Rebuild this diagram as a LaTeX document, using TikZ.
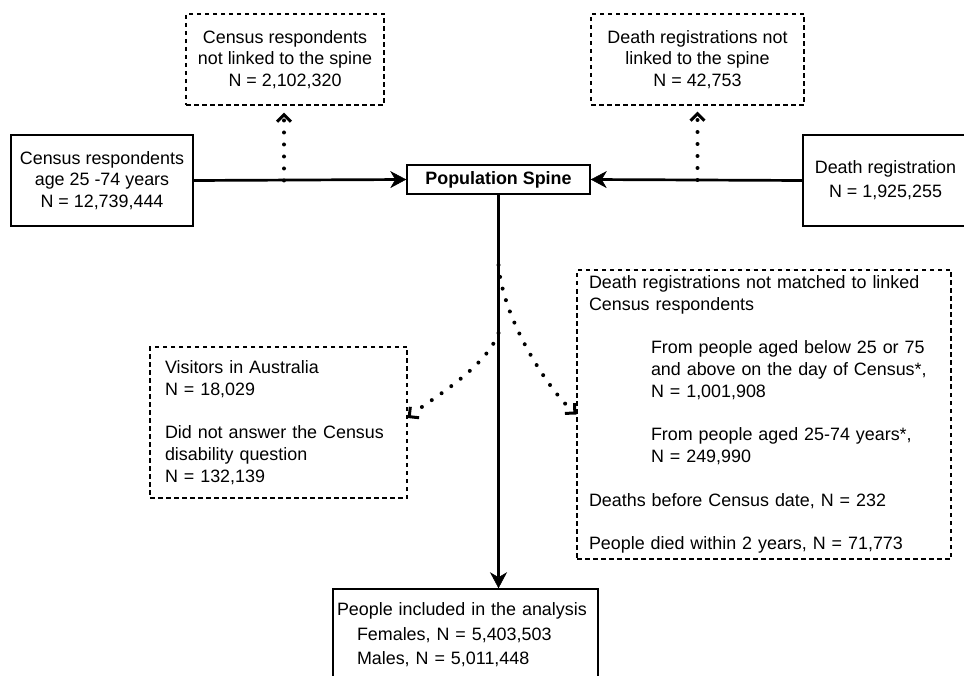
\documentclass[tikz,border=0pt]{standalone}
\usepackage{fontspec}
\setmainfont{Liberation Sans}
\usetikzlibrary{arrows.meta}
\begin{document}
\begin{tikzpicture}[x=1pt,y=-1pt,
  every node/.style={font=\fontsize{17.9}{21.8}\selectfont, inner sep=0pt},
  solidbox/.style={draw, line width=1.5pt, rectangle},
  dashbox/.style={draw, line width=1.2pt, dash pattern=on 4.5pt off 3.5pt, rectangle},
  mainarrow/.style={line width=2.7pt, -{Stealth[length=16pt,width=17pt,inset=5pt,line width=0.5pt]}},
  dotline/.style={line width=4pt, line cap=round, dash pattern=on 0pt off 12pt},
  opentip/.style={tips, line width=3pt, solid, -{Straight Barb[length=7pt,width=14pt,line width=3pt]}}
]
\useasboundingbox (0,0) rectangle (964,676);
\clip (0,0) rectangle (964,676);

% solid boxes
\node[solidbox, minimum width=182pt, minimum height=91pt, align=center] (census) at (102,180.5)
  {Census respondents\\age 25 -74 years\\N = 12,739,444};
\node[solidbox, minimum width=183pt, minimum height=29pt,
  font={\fontsize{17.9}{21.8}\selectfont\bfseries}] (spine) at (498.5,179.5) {Population Spine};
\node[solidbox, minimum width=165pt, minimum height=91pt, align=center] (death) at (885.5,180.5)
  {Death registration\\[2pt]N = 1,925,255};
\node[solidbox, minimum width=265pt, minimum height=91pt, text width=257pt, align=left] (bottom) at (465.5,634.5)
  {People included in the analysis\\[3pt]\hspace*{20pt}Females, N = 5,403,503\\[2pt]\hspace*{20pt}Males, N = 5,011,448};

% dashed boxes
\node[dashbox, minimum width=198pt, minimum height=91pt, align=center] (tl) at (285,59.5)
  {Census respondents\\not linked to the spine\\N = 2,102,320};
\node[dashbox, minimum width=213pt, minimum height=91pt, align=center] (tr) at (697.5,59.5)
  {Death registrations not\\linked to the spine\\N = 42,753};
\node[dashbox, minimum width=257pt, minimum height=151pt, text width=227pt, align=left] (lb) at (278.5,422.5)
  {Visitors in Australia\\N = 18,029\\[21.8pt]Did not answer the Census\\disability question\\N = 132,139};
\node[dashbox, minimum width=374pt, minimum height=289pt, text width=350pt, align=left] (rb) at (764,414.5)
  {Death registrations not matched to linked\\
   Census respondents\\[21.8pt]
   \hspace*{62pt}From people aged below 25 or 75\\
   \hspace*{62pt}and above on the day of Census*,\\
   \hspace*{62pt}N = 1,001,908\\[21.8pt]
   \hspace*{62pt}From people aged 25-74 years*,\\
   \hspace*{62pt}N = 249,990\\[21.8pt]
   Deaths before Census date, N = 232\\[21.8pt]
   People died within 2 years, N = 71,773};

% connector points
\coordinate (cl) at (284,180.5);
\coordinate (cr) at (697.5,180);
\coordinate (vl) at (498.5,333);
\coordinate (vr) at (498.5,265);

% main arrows
\draw[mainarrow] (census.east) -- (spine.west);
\draw[mainarrow] (death.west) -- (spine.east);
\draw[mainarrow] (spine.south) -- (spine.south |- bottom.north);

% dotted arrows (dotted line, then solid open tip)
\draw[dotline, shorten >=14pt] (cl) -- (cl |- tl.south);
\path[opentip, shorten >=7pt] (cl) -- (cl |- tl.south);
\draw[dotline, shorten >=13pt] (cr) -- (cr |- tr.south);
\path[opentip, shorten >=6pt] (cr) -- (cr |- tr.south);
\draw[dotline, shorten >=9pt] (vl) .. controls (486,368) and (430,400) .. ([yshift=4.5pt]lb.east);
\path[opentip] (vl) .. controls (486,368) and (430,400) .. ([yshift=4.5pt]lb.east);
\draw[dotline, shorten >=9pt] (vr) .. controls (503,320) and (548,388) .. (rb.west);
\path[opentip] (vr) .. controls (503,320) and (548,388) .. (rb.west);
\end{tikzpicture}
\end{document}
